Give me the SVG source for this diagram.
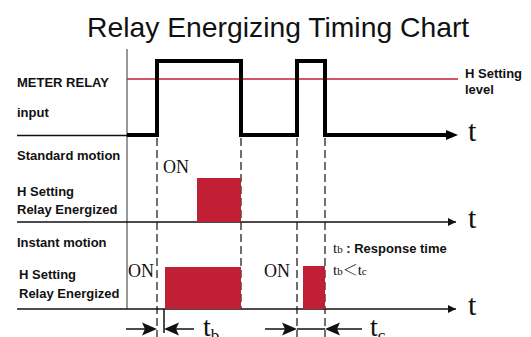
<svg xmlns="http://www.w3.org/2000/svg" width="531" height="337" viewBox="0 0 531 337">
<defs>
<style>
.lbl{font-family:"Liberation Sans",Arial,sans-serif;font-weight:bold;font-size:13px;fill:#111}
.ser{font-family:"Liberation Serif","Times New Roman",serif;fill:#111}
.axis{stroke:#111;stroke-width:1.5;fill:none}
.dash{stroke:#111;stroke-width:1.2;stroke-dasharray:8 4;fill:none}
.red{fill:#c11f33}
.dim{stroke:#111;stroke-width:1.5;fill:none}
.head{fill:#111}
</style>
<marker id="ah" viewBox="0 0 10 10" refX="10" refY="5" markerWidth="10" markerHeight="8" markerUnits="userSpaceOnUse" orient="auto"><path d="M0,0 L10,5 L0,10 Z" fill="#111"/></marker>
</defs>
<rect width="531" height="337" fill="#fff"/>
<text x="87" y="37" font-family="'Liberation Sans',Arial,sans-serif" font-size="28.3" fill="#111">Relay Energizing Timing Chart</text>

<g id="labels">
<text class="lbl" x="17" y="87">METER RELAY</text>
<text class="lbl" x="17" y="117">input</text>
<text class="lbl" x="17" y="160">Standard motion</text>
<text class="lbl" x="17" y="196">H Setting</text>
<text class="lbl" x="17" y="214">Relay Energized</text>
<text class="lbl" x="17" y="247">Instant motion</text>
<text class="lbl" x="19" y="279">H Setting</text>
<text class="lbl" x="19" y="298">Relay Energized</text>
<text class="lbl" x="465" y="78">H Setting</text>
<text class="lbl" x="465" y="94">level</text>
</g>

<g id="connectors">
<line x1="127" y1="49" x2="127" y2="309" stroke="#555" stroke-width="1.2"/>
<line x1="17" y1="135.5" x2="127" y2="135.5" class="axis"/>
<line x1="17" y1="222" x2="456" y2="222" class="axis" marker-end="url(#ah)"/>
<line x1="17" y1="309" x2="456" y2="309" class="axis" marker-end="url(#ah)"/>
<line x1="127" y1="79" x2="458" y2="79" stroke="#c41e3a" stroke-width="1.6"/>
<line x1="157" y1="138" x2="157" y2="337" class="dash"/>
<line x1="241" y1="138" x2="241" y2="309" class="dash"/>
<line x1="297" y1="138" x2="297" y2="337" class="dash"/>
<line x1="325" y1="138" x2="325" y2="337" class="dash"/>
</g>

<g id="waveform">
<path d="M127,135 H157 V61 H241 V135 H297 V61 H325 V135 H448" fill="none" stroke="#000" stroke-width="4"/>
<path d="M446,130 L458,135 L446,140 Z" fill="#000"/>
</g>

<g id="standard">
<rect class="red" x="197" y="178" width="44" height="44"/>
<text class="ser" x="163" y="173" font-size="18">ON</text>
</g>

<g id="instant">
<rect class="red" x="165" y="267" width="76" height="42"/>
<rect class="red" x="303" y="266" width="22" height="43"/>
<text class="ser" x="128" y="277" font-size="18">ON</text>
<text class="ser" x="264" y="277" font-size="18">ON</text>
<text x="333" y="253"><tspan class="ser" font-size="15">t</tspan><tspan class="ser" font-size="11">b</tspan><tspan class="lbl" font-size="13.5"> :  Response time</tspan></text>
<text class="ser" x="333" y="275" font-size="15">t<tspan font-size="11">b</tspan><tspan font-family="'Noto Sans CJK JP','Noto Sans CJK SC',sans-serif" font-size="15" font-weight="300">＜</tspan>t<tspan font-size="11">c</tspan></text>
</g>

<g id="axis-labels">
<text class="ser" x="468" y="141" font-size="30">t</text>
<text class="ser" x="468" y="228" font-size="30">t</text>
<text class="ser" x="468" y="315" font-size="30">t</text>
</g>

<g id="dimensions">
<line x1="126" y1="329" x2="150" y2="329" class="dim"/>
<path class="head" d="M157,329 L142,322.5 L145,329 L142,335.5 Z"/>
<line x1="194" y1="329" x2="170" y2="329" class="dim"/>
<path class="head" d="M164,329 L179,322.5 L176,329 L179,335.5 Z"/>
<line x1="164" y1="309" x2="164" y2="333" stroke="#111" stroke-width="1.5"/>
<text class="ser" x="203" y="336" font-size="28">t<tspan font-size="17" dy="5">b</tspan></text>
<line x1="265" y1="329" x2="290" y2="329" class="dim"/>
<path class="head" d="M297,329 L282,322.5 L285,329 L282,335.5 Z"/>
<line x1="297" y1="329" x2="325" y2="329" class="dim"/>
<line x1="362" y1="329" x2="331" y2="329" class="dim"/>
<path class="head" d="M325,329 L340,322.5 L337,329 L340,335.5 Z"/>
<text class="ser" x="370" y="336" font-size="28">t<tspan font-size="17" dy="5">c</tspan></text>
</g>
</svg>
